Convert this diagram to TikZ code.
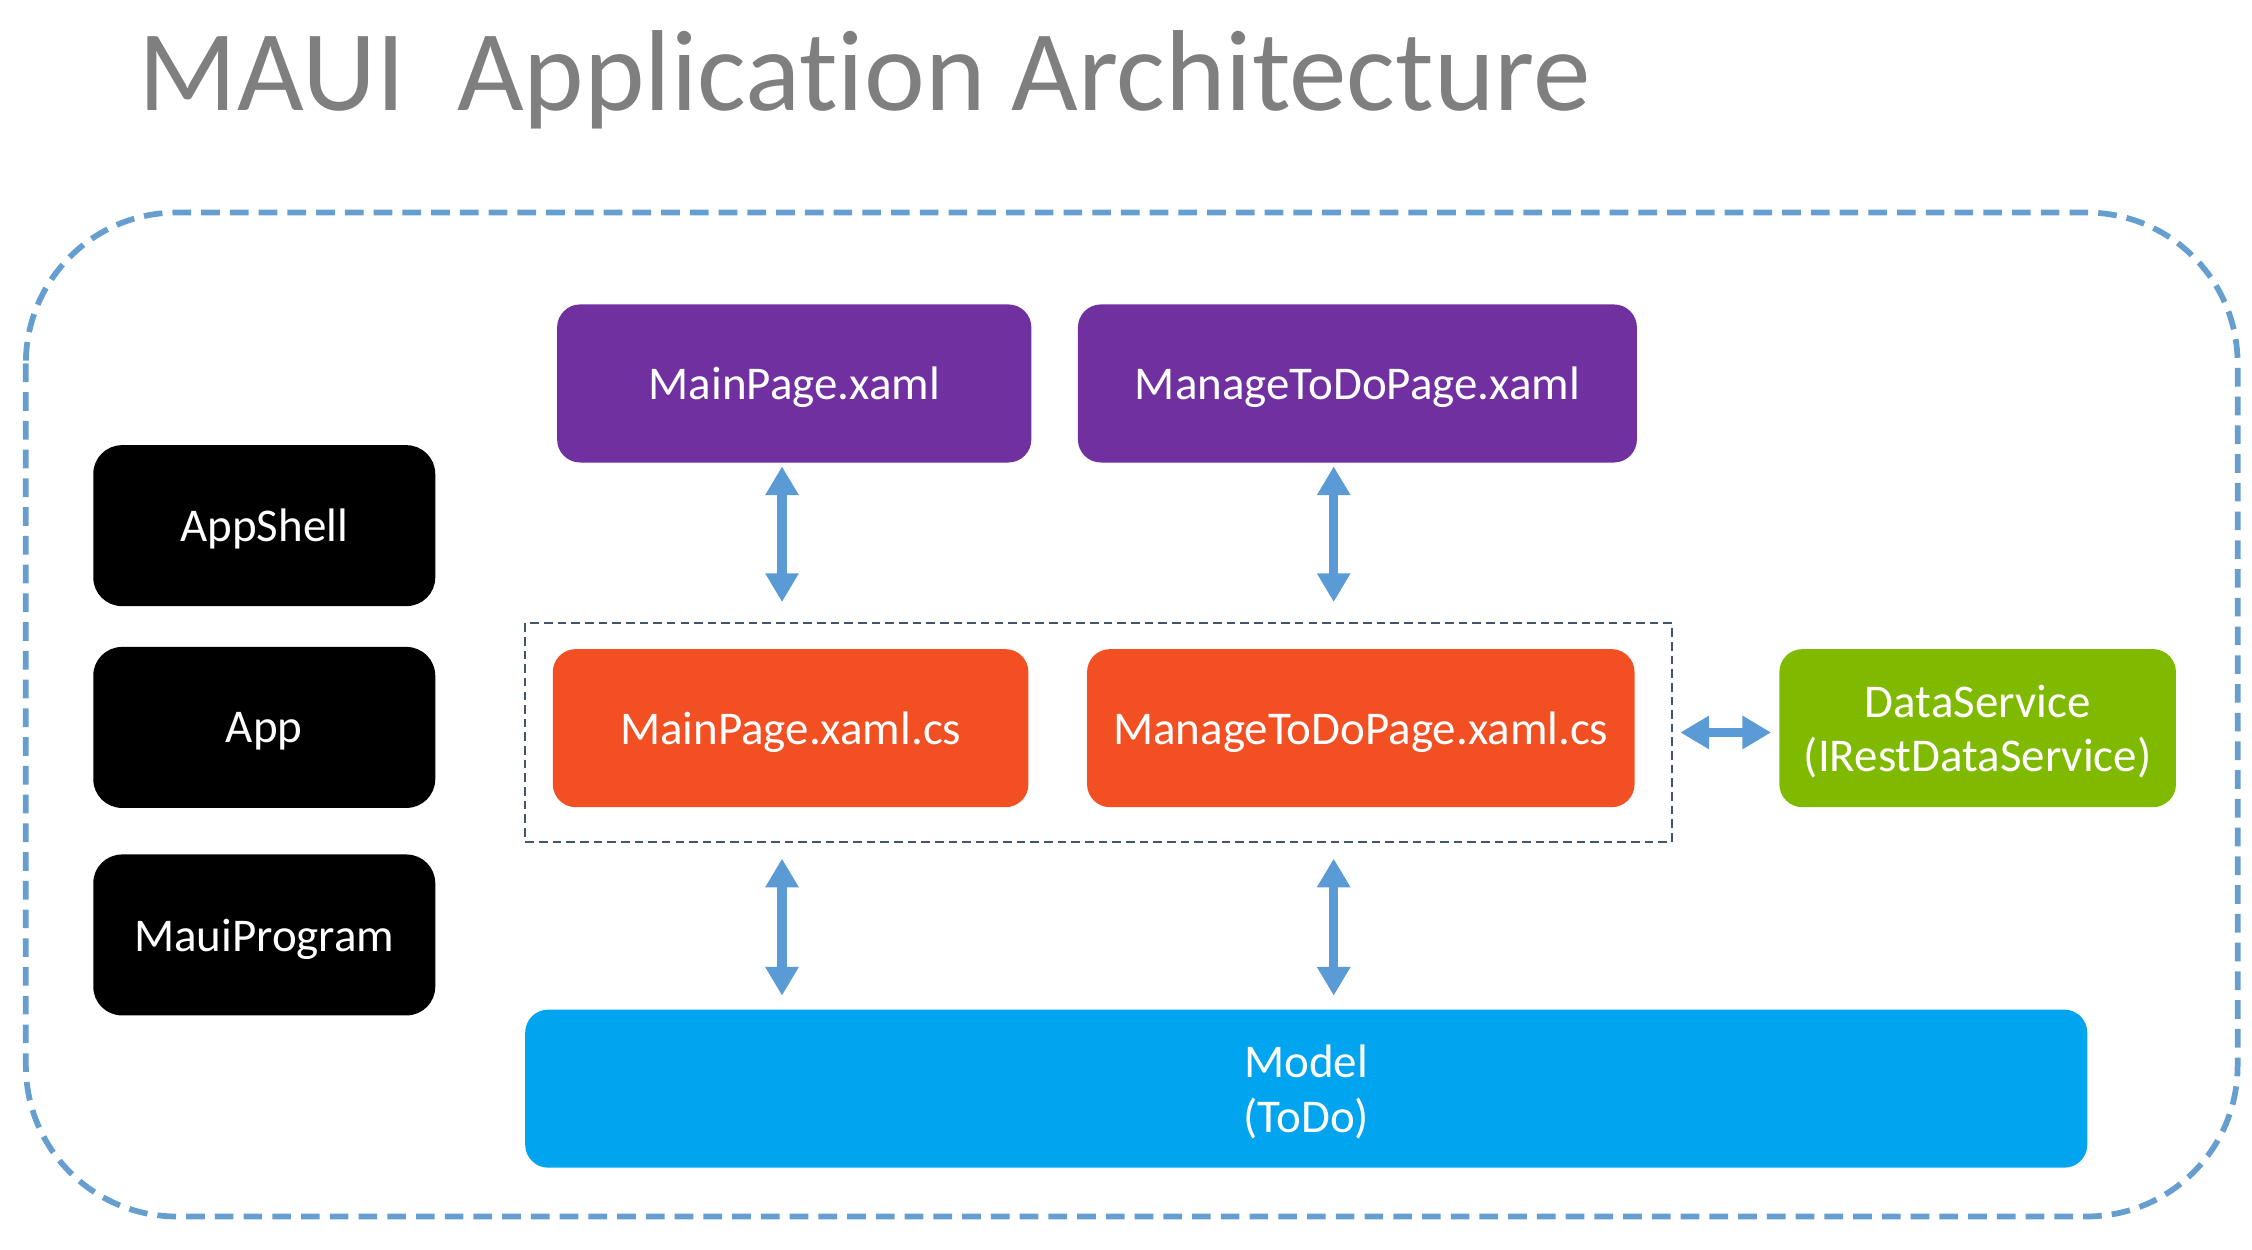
\documentclass[tikz,border=0pt]{standalone}
\usepackage{fontspec}
\setmainfont{Carlito}[Ligatures=NoCommon]
\usetikzlibrary{arrows.meta,positioning}

\definecolor{titlegray}{HTML}{7F7F7F}
\definecolor{xamlpurple}{HTML}{7030A0}
\definecolor{csorange}{HTML}{F25022}
\definecolor{servicegreen}{HTML}{7FBA00}
\definecolor{modelblue}{HTML}{00A4EF}
\definecolor{arrowblue}{HTML}{5B9BD5}
\definecolor{framegray}{HTML}{44546A}

\tikzset{
    box/.style={rounded corners=0.16cm,text=white,inner sep=0pt,align=center,text depth=0pt,
                font=\fontsize{9.3}{10.8}\selectfont,minimum height=1.1cm},
    shellbox/.style={box,fill=black,minimum width=2.38cm,minimum height=1.12cm,rounded corners=0.2cm},
    xamlbox/.style={box,fill=xamlpurple},
    csbox/.style={box,fill=csorange},
    servicebox/.style={box,fill=servicegreen},
    modelbox/.style={box,fill=modelblue},
    groupbox/.style={draw=framegray,line width=0.015cm,dash pattern=on 0.06cm off 0.035cm,
                     inner sep=0pt,minimum width=7.98cm,minimum height=1.52cm},
    biarrow/.style={{Triangle[width=0.22cm,length=0.2cm]}-{Triangle[width=0.22cm,length=0.2cm]},
                    line width=0.065cm,draw=arrowblue,fill=arrowblue}
}

\begin{document}
\begin{tikzpicture}[x=0.01cm,y=-0.01cm]
    \useasboundingbox (0,0) rectangle (1568,870);

    \node[anchor=base west,inner sep=0pt,text=titlegray,font=\fontsize{22.8}{27}\selectfont]
        (title) at (96,77) {MAUI\ \ Application Architecture};

    \draw[arrowblue!95!black!90,line width=0.04cm,dash pattern=on 0.13cm off 0.07cm,rounded corners=1.05cm]
        (18,148) rectangle (1558,847);

    \node[shellbox]   (appshell) at (184,366)                      {AppShell};
    \node[shellbox]   (app)      [below=0.27cm of appshell]        {App};
    \node[shellbox]   (mauiprog) [below=0.31cm of app]             {MauiProgram};

    \node[xamlbox,minimum width=3.3cm]   (mpx)   at (553,267)      {MainPage.xaml};
    \node[xamlbox,minimum width=3.89cm]  (mtdx)  [right=0.31cm of mpx] {ManageToDoPage.xaml};

    \node[groupbox]                      (grp)   at (765,510)      {};
    \node[csbox,minimum width=3.31cm]    (mcs)   at (550.5,507)    {MainPage.xaml.cs};
    \node[csbox,minimum width=3.81cm]    (mtdcs) at (947.5,507)    {ManageToDoPage.xaml.cs};

    \node[servicebox,minimum width=2.76cm] (ds)  at (1377,507)     {DataService\\(IRestDataService)};
    \node[modelbox,minimum width=10.87cm]  (model) at (909.5,758)  {Model\\(ToDo)};

    \draw[biarrow,shorten <=0.02cm,shorten >=0.14cm]
        ([xshift=-0.085cm]mpx.south)  -- ([xshift=-0.085cm]mpx.south |- grp.north);
    \draw[biarrow,shorten <=0.02cm,shorten >=0.14cm]
        ([xshift=-0.165cm]mtdx.south) -- ([xshift=-0.165cm]mtdx.south |- grp.north);
    \draw[biarrow,shorten <=0.11cm,shorten >=0.09cm]
        ([xshift=-0.085cm]mpx.south |- grp.south)  -- ([xshift=-0.085cm]mpx.south |- model.north);
    \draw[biarrow,shorten <=0.11cm,shorten >=0.09cm]
        ([xshift=-0.165cm]mtdx.south |- grp.south) -- ([xshift=-0.165cm]mtdx.south |- model.north);
    \draw[biarrow,shorten <=0.05cm,shorten >=0.05cm]
        (grp.east) -- (grp.east -| ds.west);
\end{tikzpicture}
\end{document}
